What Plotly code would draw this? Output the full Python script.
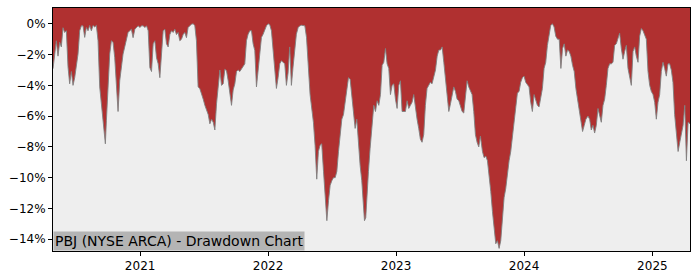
import plotly.graph_objects as go
import pandas as pd

# Decimal-year positions of each reading and drawdown (%) values
years = [
    2020.321, 2020.334, 2020.347, 2020.360, 2020.373, 2020.386, 2020.399, 2020.412, 2020.425, 2020.438,
    2020.451, 2020.464, 2020.477, 2020.490, 2020.503, 2020.516, 2020.529, 2020.542, 2020.555, 2020.568,
    2020.581, 2020.594, 2020.607, 2020.620, 2020.633, 2020.646, 2020.659, 2020.672, 2020.685, 2020.698,
    2020.711, 2020.724, 2020.729, 2020.737, 2020.750, 2020.763, 2020.776, 2020.789, 2020.802, 2020.815,
    2020.828, 2020.841, 2020.854, 2020.867, 2020.880, 2020.893, 2020.906, 2020.919, 2020.932, 2020.945,
    2020.959, 2020.972, 2020.985, 2020.998, 2021.011, 2021.024, 2021.037, 2021.050, 2021.063, 2021.076,
    2021.089, 2021.102, 2021.115, 2021.128, 2021.141, 2021.154, 2021.167, 2021.180, 2021.193, 2021.206,
    2021.219, 2021.232, 2021.245, 2021.258, 2021.271, 2021.284, 2021.297, 2021.310, 2021.323, 2021.336,
    2021.349, 2021.362, 2021.375, 2021.388, 2021.401, 2021.414, 2021.427, 2021.440, 2021.453, 2021.466,
    2021.479, 2021.493, 2021.506, 2021.519, 2021.532, 2021.545, 2021.558, 2021.571, 2021.584, 2021.597,
    2021.610, 2021.623, 2021.636, 2021.649, 2021.662, 2021.675, 2021.688, 2021.701,
    2021.714, 2021.727, 2021.740, 2021.753, 2021.766, 2021.779, 2021.792, 2021.805, 2021.818, 2021.831,
    2021.844, 2021.857, 2021.870, 2021.883, 2021.896, 2021.909, 2021.922, 2021.935, 2021.948, 2021.961,
    2021.974, 2021.987, 2022.000, 2022.013, 2022.026, 2022.039, 2022.052, 2022.065, 2022.078, 2022.091,
    2022.104, 2022.117, 2022.130, 2022.143, 2022.156, 2022.169, 2022.182, 2022.195, 2022.208, 2022.221,
    2022.235, 2022.248, 2022.261, 2022.274, 2022.287, 2022.300, 2022.313,
    2022.328, 2022.354, 2022.367, 2022.380, 2022.393, 2022.406, 2022.419, 2022.433, 2022.446, 2022.459,
    2022.472, 2022.485, 2022.498, 2022.511, 2022.524, 2022.537, 2022.550, 2022.563, 2022.576, 2022.589,
    2022.602, 2022.615, 2022.628, 2022.641, 2022.654, 2022.667, 2022.680, 2022.693, 2022.706, 2022.719,
    2022.732, 2022.745, 2022.753, 2022.763, 2022.771, 2022.784, 2022.797, 2022.810,
    2022.826, 2022.839, 2022.852, 2022.865, 2022.878, 2022.891, 2022.904, 2022.917, 2022.930, 2022.943,
    2022.956, 2022.969, 2022.982, 2022.995, 2023.008, 2023.021, 2023.034, 2023.047, 2023.060, 2023.073,
    2023.086, 2023.099, 2023.112, 2023.125, 2023.138, 2023.151, 2023.164, 2023.177, 2023.190, 2023.203,
    2023.216, 2023.229, 2023.242, 2023.255, 2023.268, 2023.281, 2023.295, 2023.308, 2023.321, 2023.334,
    2023.347, 2023.360, 2023.373, 2023.386, 2023.399, 2023.412, 2023.425, 2023.438, 2023.451, 2023.464,
    2023.477, 2023.490, 2023.503, 2023.516, 2023.529, 2023.542, 2023.555, 2023.568, 2023.581, 2023.594,
    2023.607, 2023.620, 2023.633, 2023.646, 2023.659,
    2023.675, 2023.688, 2023.701, 2023.714, 2023.727, 2023.740, 2023.753, 2023.766, 2023.779, 2023.792,
    2023.805, 2023.818, 2023.831, 2023.844, 2023.857, 2023.870, 2023.883, 2023.896, 2023.909, 2023.922,
    2023.935, 2023.948, 2023.961, 2023.974, 2023.987, 2024.000, 2024.013, 2024.026, 2024.039, 2024.052,
    2024.065, 2024.078, 2024.091, 2024.104, 2024.117, 2024.130, 2024.143, 2024.156, 2024.169, 2024.182,
    2024.195, 2024.208, 2024.221, 2024.234, 2024.247, 2024.261, 2024.274, 2024.287, 2024.300, 2024.313,
    2024.326, 2024.339, 2024.352, 2024.365, 2024.378, 2024.391, 2024.404, 2024.417, 2024.430, 2024.443,
    2024.456, 2024.469, 2024.482,
    2024.498, 2024.511, 2024.524, 2024.537, 2024.550, 2024.563, 2024.576, 2024.589, 2024.602, 2024.615,
    2024.628, 2024.641, 2024.654, 2024.667, 2024.680, 2024.693, 2024.706, 2024.719, 2024.732, 2024.745,
    2024.758, 2024.771, 2024.784, 2024.797, 2024.810, 2024.823, 2024.836, 2024.849, 2024.862, 2024.875,
    2024.888, 2024.901, 2024.914, 2024.927, 2024.940, 2024.953, 2024.966, 2024.979, 2024.992, 2025.005,
    2025.018, 2025.031, 2025.044, 2025.057, 2025.070, 2025.083, 2025.096, 2025.109, 2025.122, 2025.135,
    2025.148, 2025.161, 2025.174, 2025.188, 2025.201, 2025.214, 2025.227, 2025.240, 2025.253, 2025.266,
    2025.279, 2025.294,
]

drawdown = [
    -2.92, -1.96, -1.1, -2.1, -1.2, -1.5, -0.25, -0.56, -0.45, -2.8,
    -3.9, -3.1, -4.0, -3.5, -2.6, -1.96, -0.45, -0.13, -0.13, -0.88,
    -0.24, -0.45, -0.1, -0.45, -0.1, -0.2, -0.1, -1.1, -4.1, -5.2,
    -6.3, -7.3, -7.8, -6.3, -3.9, -1.96, -1.1, -1.2, -2.2, -3.9,
    -5.7, -3.7, -2.85, -1.96, -1.5, -0.9, -0.56, -0.45, -0.35, -0.9,
    -0.35, -0.24, -0.13, -0.24, -0.13, -0.13, -0.24, -0.13, -0.45, -2.85,
    -3.1, -1.3, -1.1, -2.2, -2.6, -3.5, -1.8, -0.45, -0.35, -1.3,
    -1.5, -0.7, -0.45, -0.56, -0.35, -0.7, -0.56, -1.1, -1.0, -0.7,
    -0.56, -0.9, -0.24, -0.13, -0.02, 0.0, -0.1, -1.1, -4.1, -4.2,
    -4.5, -4.9, -5.3, -5.6, -5.9, -6.5, -6.2, -6.4, -6.9, -5.2,
    -4.1, -3.0, -4.0, -3.9, -2.95, -3.05, -3.7, -4.5,
    -5.3, -4.3, -3.9, -3.1, -3.0, -3.1, -2.9, -2.8, -2.6, -1.1,
    -0.67, -0.45, -0.45, -1.3, -1.74, -4.1, -3.0, -2.2, -0.88, -0.67,
    -0.35, -0.13, 0.0, -0.06, -0.45, -1.74, -3.2, -4.2, -3.5, -2.6,
    -2.4, -2.5, -2.6, -4.0, -3.2, -1.5, -4.0, -2.8, -1.74, -0.67,
    -0.24, -0.13, -0.09, -0.09, -0.13, -0.88, -2.8,
    -4.6, -6.4, -7.9, -10.1, -8.3, -7.9, -7.8, -9.6, -11.3, -12.8,
    -11.5, -10.5, -10.2, -10.0, -10.0, -9.6, -8.3, -7.4, -6.2, -5.9,
    -5.1, -4.2, -3.5, -3.6, -4.6, -5.9, -6.8, -6.2, -7.9, -9.2,
    -10.2, -12.2, -12.8, -12.6, -11.3, -9.6, -8.1, -6.6,
    -5.3, -5.7, -5.0, -5.3, -4.6, -2.7, -2.5, -1.6, -2.6, -2.9,
    -4.6, -4.0, -3.9, -4.9, -5.5, -4.0, -3.7, -5.7, -5.7, -5.7,
    -5.0, -5.5, -5.3, -5.1, -4.6, -5.5, -6.2, -6.8, -7.5, -7.7,
    -7.2, -5.3, -4.2, -4.0, -3.8, -3.9, -3.4, -3.0, -2.1, -1.7,
    -1.7, -1.5, -2.5, -3.6, -4.4, -5.7, -5.2, -4.6, -4.1, -4.4,
    -4.9, -5.0, -5.3, -5.7, -5.8, -4.5, -3.7, -4.1, -4.3, -4.6,
    -5.7, -7.2, -7.7, -8.0, -7.3,
    -8.3, -8.7, -8.6, -8.9, -9.8, -10.9, -12.2, -13.5, -14.3, -14.1,
    -14.6, -14.1, -12.6, -11.3, -10.7, -9.6, -8.9, -8.3, -7.4, -6.4,
    -5.5, -4.5, -4.4, -3.8, -3.5, -3.4, -3.8, -4.0, -4.1, -5.1,
    -5.7, -4.6, -4.9, -5.3, -5.4, -4.9, -4.2, -2.9, -2.5, -1.4,
    -0.8, -0.1, 0.0, -0.2, -0.8, -1.0, -1.0, -2.9, -1.6, -1.3,
    -2.1, -1.7, -1.8, -2.1, -2.7, -3.1, -4.2, -4.9, -5.5, -6.4,
    -7.0, -6.6, -6.2,
    -6.0, -6.2, -6.9, -6.6, -7.1, -6.6, -5.5, -5.9, -6.4, -5.3,
    -4.9, -4.0, -2.9, -2.6, -2.6, -2.5, -1.4, -1.3, -1.0, -0.6,
    -1.6, -2.3, -1.8, -1.4, -2.9, -3.4, -4.0, -1.8, -1.5, -2.1,
    -2.5, -0.8, -0.3, -0.45, -0.7, -1.0, -3.1, -4.0, -4.4, -4.6,
    -5.1, -6.2, -5.1, -4.6, -3.1, -2.5, -2.9, -3.4, -2.6, -2.6,
    -3.0, -3.8, -5.9, -7.2, -8.3, -7.7, -7.2, -6.6, -5.3, -8.9,
    -6.4, -6.5,
]

year_ticks = [2021, 2022, 2023, 2024, 2025]
y_ticks = [0, -2, -4, -6, -8, -10, -12, -14]
y_tick_labels = ["0%", "\u22122%", "\u22124%", "\u22126%", "\u22128%", "\u221210%", "\u221212%", "\u221214%"]
title_text = "PBJ (NYSE ARCA) - Drawdown Chart"


def to_date(y):
    yr = int(y)
    start = pd.Timestamp(year=yr, month=1, day=1)
    end = pd.Timestamp(year=yr + 1, month=1, day=1)
    return start + (end - start) * (y - yr)


dates = [to_date(y) for y in years]
top = [2.0] * len(dates)

fig = go.Figure()
fig.add_trace(go.Scatter(x=dates, y=top, mode="lines", line=dict(width=0, color="rgba(0,0,0,0)"),
                         hoverinfo="skip", showlegend=False))
fig.add_trace(go.Scatter(x=dates, y=drawdown, mode="lines", fill="tonexty",
                         fillcolor="#b03030", line=dict(color="rgba(128,128,128,0.9)", width=1),
                         showlegend=False))

fig.add_annotation(text=title_text, xref="paper", yref="paper", x=0, y=0,
                   xanchor="left", yanchor="bottom", showarrow=False,
                   font=dict(family="DejaVu Sans", size=14, color="black"),
                   bgcolor="#b4b4b4", borderpad=1)

fig.update_layout(
    width=700, height=280,
    margin=dict(l=53, r=10, t=7, b=28),
    paper_bgcolor="white", plot_bgcolor="#eeeeee",
    font=dict(family="DejaVu Sans", size=12, color="black"),
    xaxis=dict(range=[dates[0], dates[-1]], tickvals=[pd.Timestamp(year=y, month=1, day=1) for y in year_ticks],
               ticktext=[str(y) for y in year_ticks], ticks="outside", ticklen=4, tickcolor="black",
               showline=True, linecolor="black", linewidth=1, mirror=True, showgrid=False, zeroline=False),
    yaxis=dict(range=[-14.77, 1.03], tickvals=y_ticks, ticktext=y_tick_labels, ticks="outside",
               ticklen=4, tickcolor="black", showline=True, linecolor="black", linewidth=1, mirror=True,
               showgrid=False, zeroline=False),
)

fig.write_html("out.html")
